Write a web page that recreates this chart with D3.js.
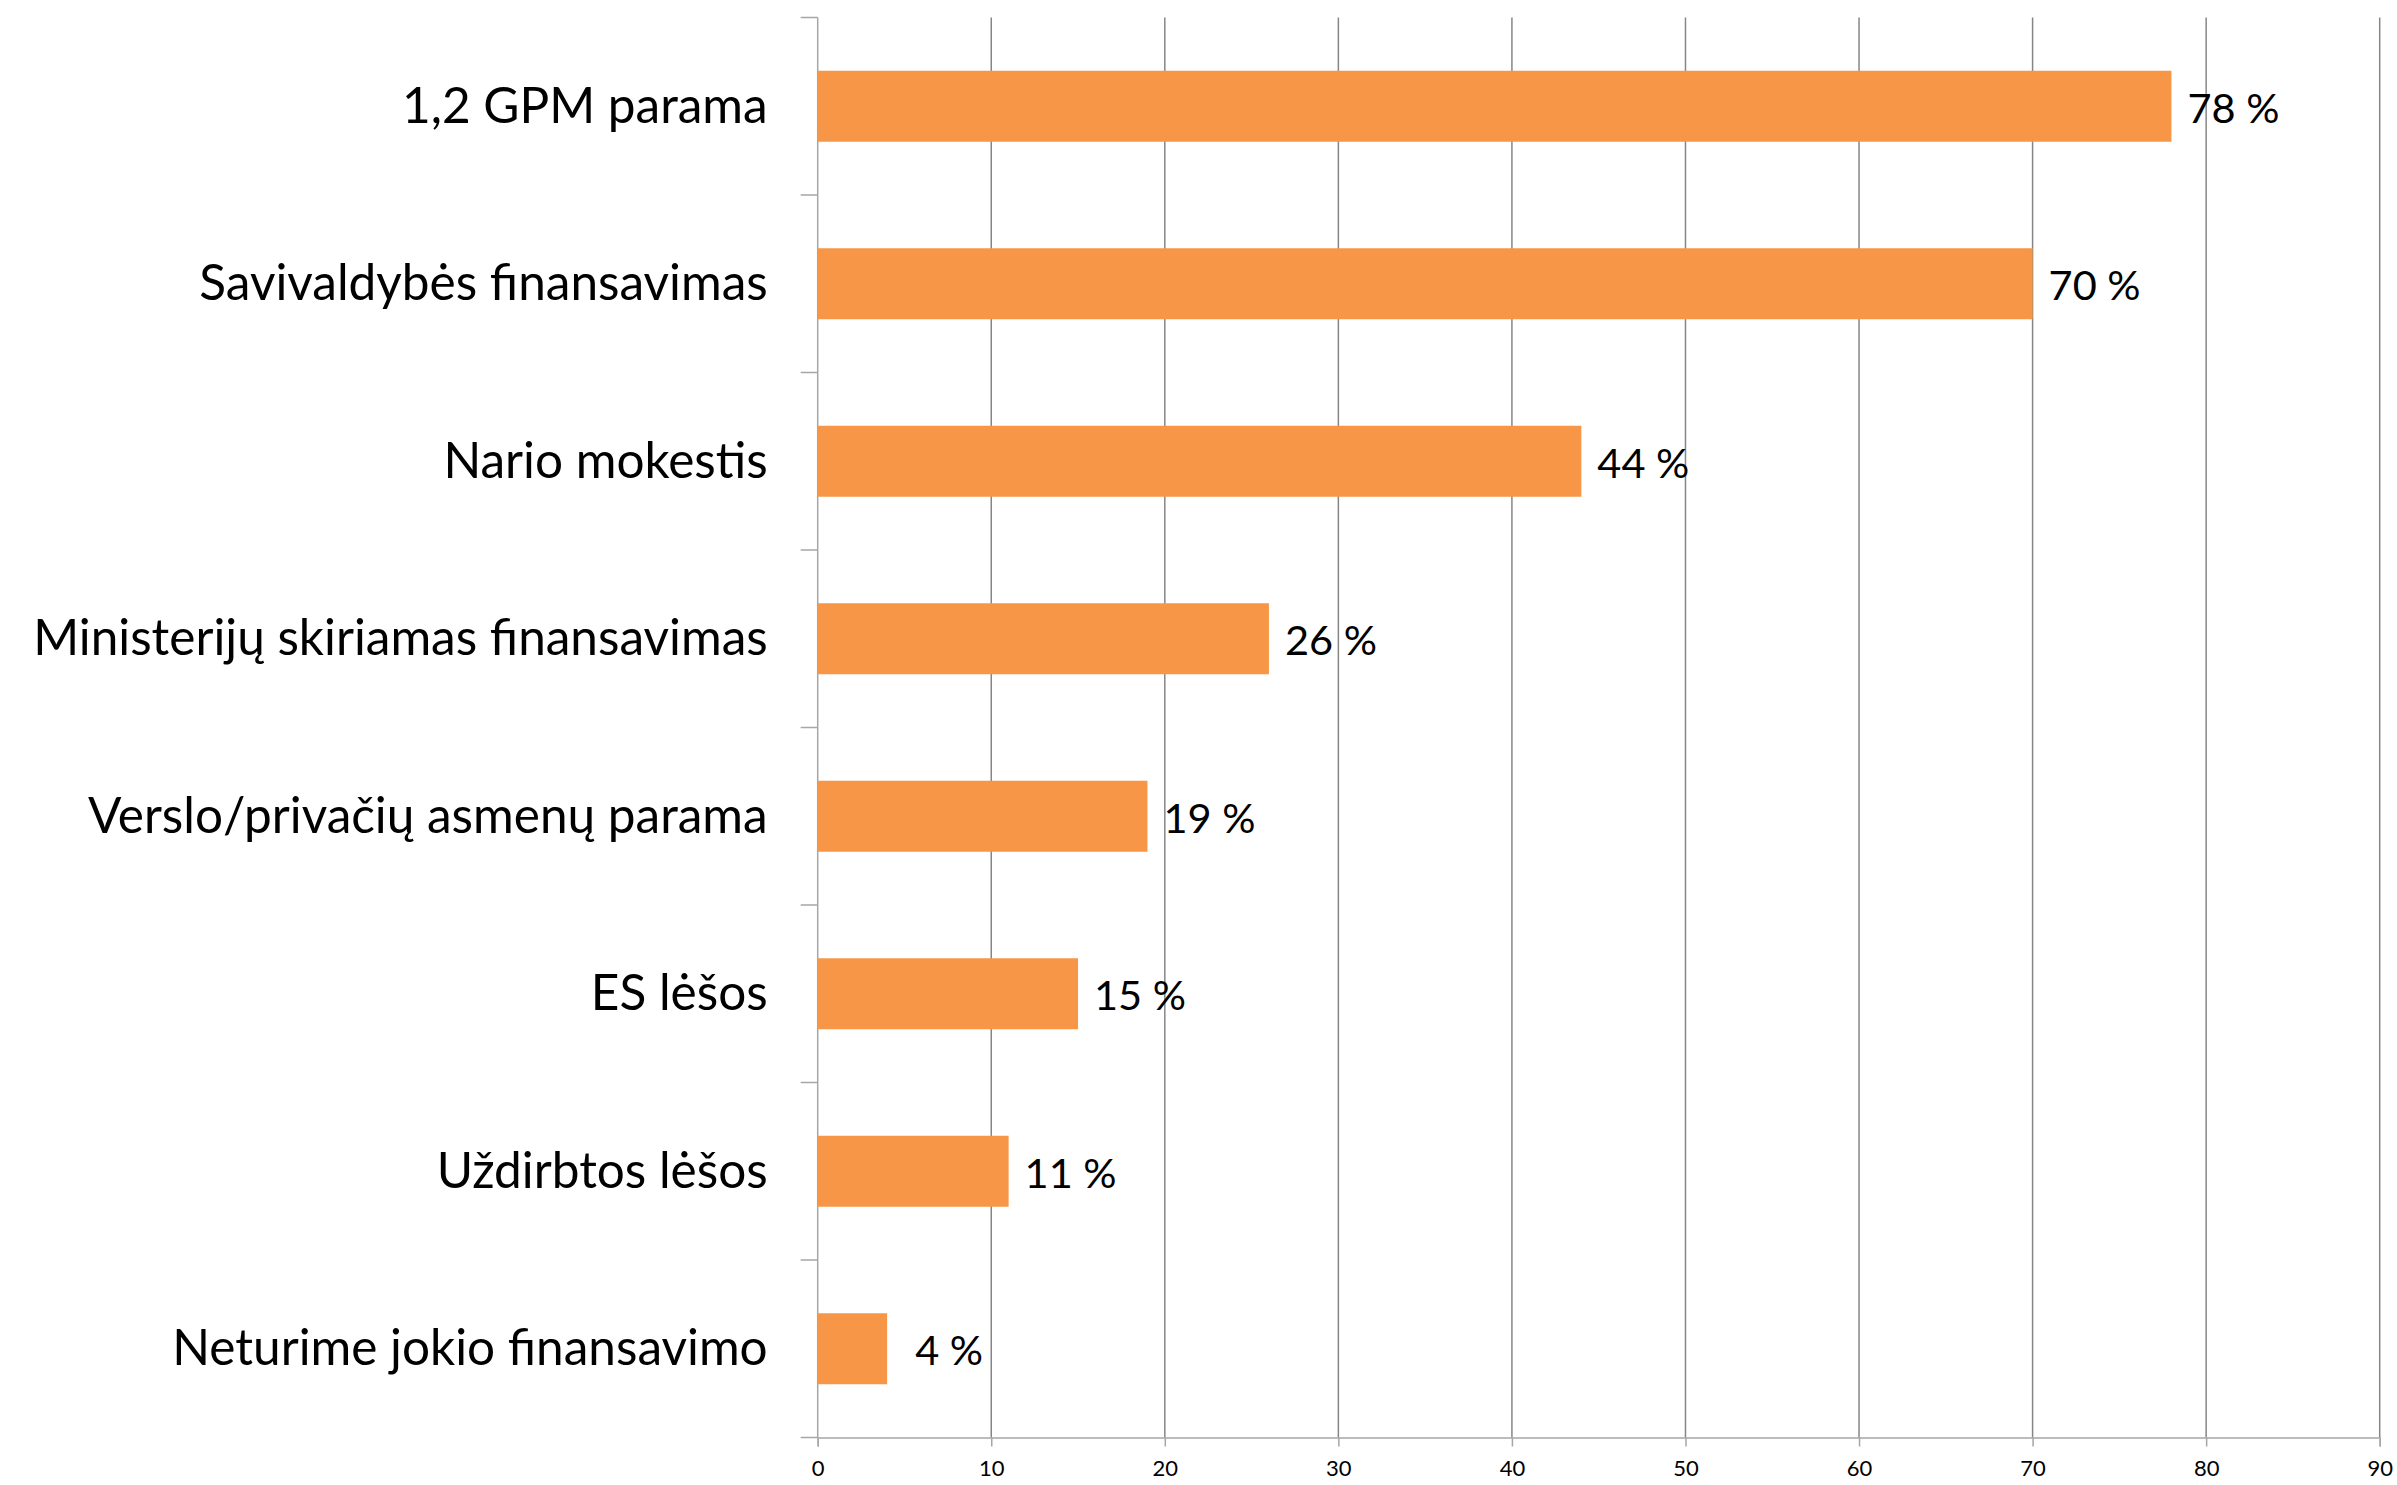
<!DOCTYPE html>
<html><head><meta charset="utf-8">
<script src="https://cdn.jsdelivr.net/npm/d3@7"></script>
<style>
html,body{margin:0;padding:0;background:#fff;}
svg{display:block;}
text{font-family:Lato,"Open Sans",sans-serif;fill:#000;}
</style></head>
<body>
<svg id="chart" width="2397" height="1485"></svg>
<script>
const categories = ["1,2 GPM parama","Savivaldybės finansavimas","Nario mokestis","Ministerijų skiriamas finansavimas","Verslo/privačių asmenų parama","ES lėšos","Uždirbtos lėšos","Neturime jokio finansavimo"];
const values = [78,70,44,26,19,15,11,4];
const xTicks = [0,10,20,30,40,50,60,70,80,90];

const svg = d3.select("#chart");
const plotLeft = 817.7, plotRight = 2379.7, plotTop = 17.5, plotBottom = 1437.5;
const x = d3.scaleLinear().domain([0,90]).range([plotLeft,plotRight]);
const y = d3.scaleBand().domain(categories).range([plotTop,plotBottom]).paddingInner(0.6).paddingOuter(0.3);

// gridlines
svg.append("g").selectAll("line").data(xTicks.filter(d=>d>0)).join("line")
  .attr("x1",d=>x(d)).attr("x2",d=>x(d)).attr("y1",plotTop).attr("y2",plotBottom)
  .attr("stroke","#868686").attr("stroke-width",1.5);

// bottom axis
const xAxis = d3.axisBottom(x).tickValues(xTicks).tickSize(9).tickPadding(14).tickFormat(d3.format("d"));
const gx = svg.append("g").attr("transform",`translate(0,${plotBottom})`).call(xAxis);
gx.select(".domain").attr("stroke","#a6a6a6").attr("stroke-width",1.5);
gx.selectAll(".tick line").attr("stroke","#a6a6a6").attr("stroke-width",1.5);
gx.selectAll(".tick text").attr("font-size",22).attr("font-family","Lato, 'Open Sans', sans-serif").attr("fill","#000");

// left axis line and ticks at band boundaries
svg.append("line").attr("x1",plotLeft).attr("x2",plotLeft).attr("y1",plotTop).attr("y2",plotBottom)
  .attr("stroke","#a6a6a6").attr("stroke-width",1.5);
const bounds = d3.range(categories.length+1).map(i=>y.range()[0]+i*y.step());
svg.append("g").selectAll("line").data(bounds).join("line")
  .attr("x1",plotLeft-17).attr("x2",plotLeft).attr("y1",d=>d).attr("y2",d=>d)
  .attr("stroke","#a6a6a6").attr("stroke-width",1.5);

// bars
svg.append("g").selectAll("rect").data(values).join("rect")
  .attr("x",x(0)).attr("y",(d,i)=>y(categories[i]))
  .attr("width",d=>x(d)-x(0)).attr("height",y.bandwidth())
  .attr("fill","#F79646");

// category labels
svg.append("g").selectAll("text").data(categories).join("text")
  .attr("x",plotLeft-50).attr("y",d=>y(d)+y.bandwidth()/2).attr("dy","0.33em")
  .attr("text-anchor","end").attr("font-size",49.5).text(d=>d);

// value labels
svg.append("g").selectAll("text").data(values).join("text")
  .attr("x",d=>x(d)+62).attr("y",(d,i)=>y(categories[i])+y.bandwidth()/2).attr("dy","0.4em")
  .attr("text-anchor","middle").attr("font-size",41.5).text(d=>d+" %");
</script>
</body></html>
